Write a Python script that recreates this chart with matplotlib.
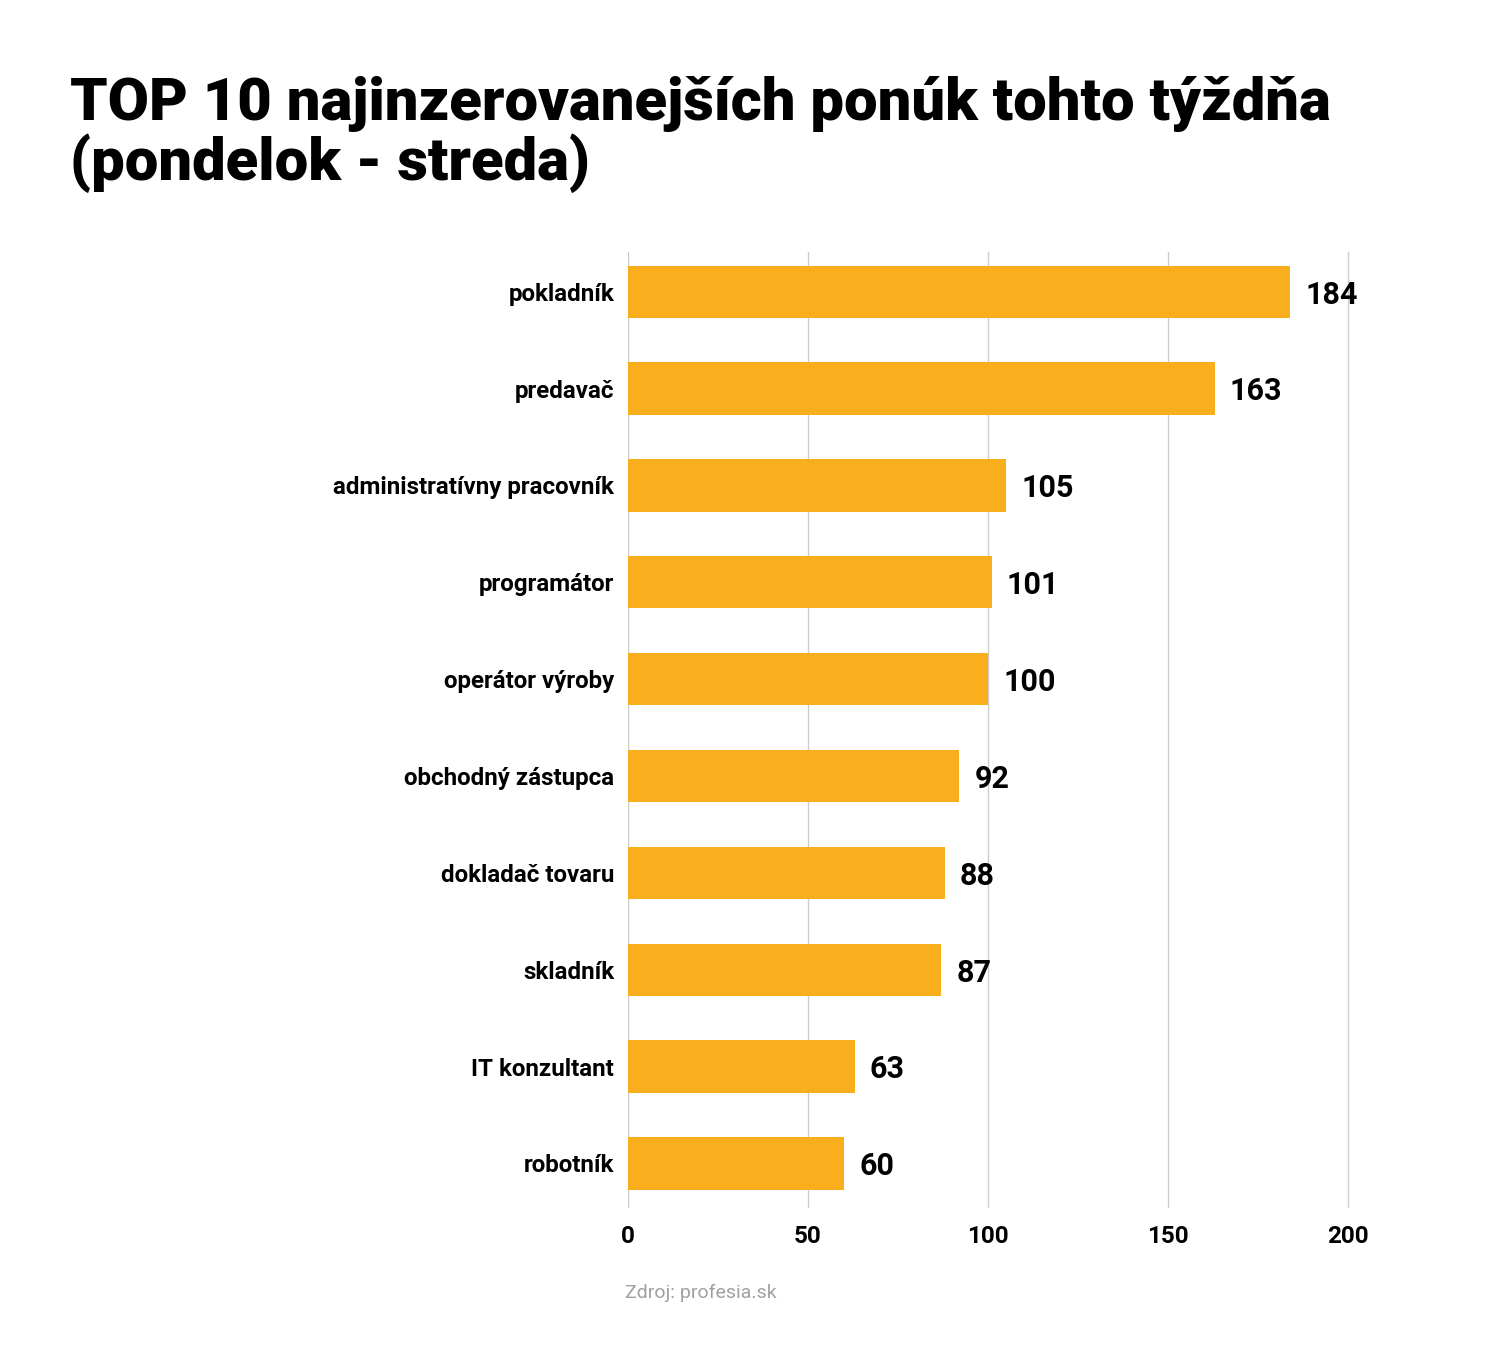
import matplotlib.pyplot as plt

categories = ["pokladník", "predavač", "administratívny pracovník", "programátor",
              "operátor výroby", "obchodný zástupca", "dokladač tovaru", "skladník",
              "IT konzultant", "robotník"]
values = [184, 163, 105, 101, 100, 92, 88, 87, 63, 60]
ticks = [0, 50, 100, 150, 200]

plt.rcParams['font.family'] = ['Roboto', 'DejaVu Sans']

fig = plt.figure(figsize=(15, 13.62), dpi=100)
ax = fig.add_axes([628/1500, 1 - 1208/1362, 724/1500, 956/1362])

pos = list(range(len(categories)))
ax.barh(pos, values, height=0.54, color="#F8AE1D", zorder=3)
for p, v in zip(pos, values):
    ax.text(v + 4.2, p + 0.03, str(v), va="center", ha="left", fontsize=22,
            fontweight="bold", color="black", clip_on=False)

ax.set_xlim(0, 201.1)
ax.set_ylim(9.46, -0.41)
ax.set_yticks(pos)
ax.set_yticklabels(categories, fontsize=17.4, fontweight="bold")
ax.set_xticks(ticks)
ax.set_xticklabels([str(t) for t in ticks], fontsize=17.5, fontweight="bold")
ax.tick_params(axis="both", length=0)
ax.tick_params(axis="y", pad=10)
ax.tick_params(axis="x", pad=12)
ax.grid(axis="x", color="#CCCCCC", linewidth=1, zorder=0)
for s in ax.spines.values():
    s.set_visible(False)

fig.text(70/1500, 1 - 120/1362, "TOP 10 najinzerovanejších ponúk tohto týždňa",
         fontsize=43, fontweight="black", va="baseline", ha="left")
fig.text(70/1500, 1 - 180/1362, "(pondelok - streda)",
         fontsize=43, fontweight="black", va="baseline", ha="left")
fig.text(625/1500, 1 - 1298/1362, "Zdroj: profesia.sk", fontsize=14,
         color="#A0A0A0", va="baseline", ha="left")

fig.savefig("out.png", dpi=100, facecolor="white")
